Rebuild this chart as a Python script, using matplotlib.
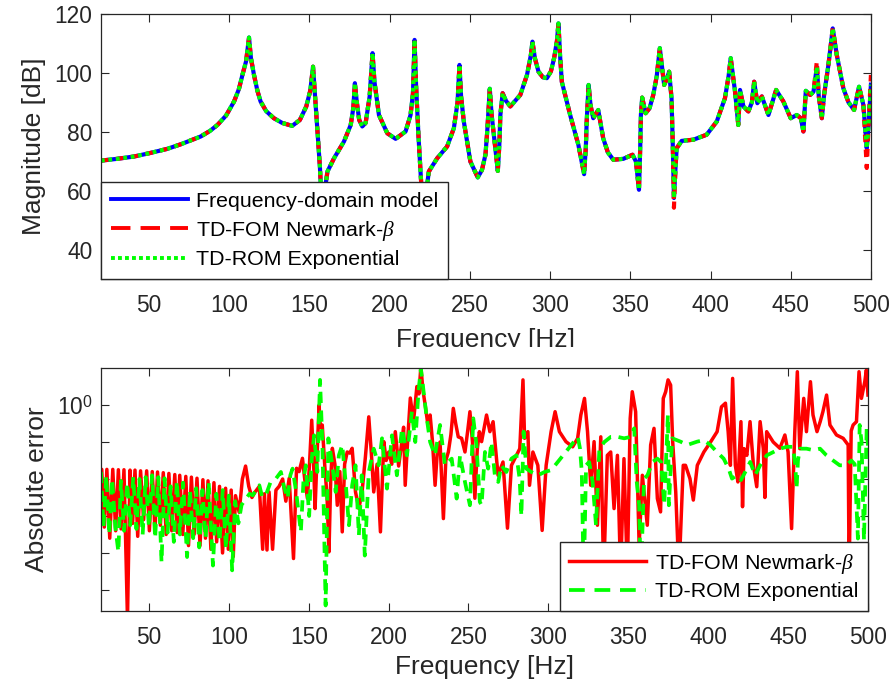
import numpy as np
import matplotlib.pyplot as plt
from matplotlib.lines import Line2D
from matplotlib.patches import Rectangle
from matplotlib.ticker import FixedLocator, FixedFormatter, NullLocator

plt.rcParams['font.family'] = ['Liberation Sans', 'DejaVu Sans']
plt.rcParams['mathtext.fontset'] = 'custom'
plt.rcParams['mathtext.rm'] = 'Liberation Sans'
plt.rcParams['mathtext.it'] = 'Liberation Serif:italic'

# ---- top panel: FRF magnitude ----
freq_top = [20, 30, 40.7, 50, 61.4, 70, 82.2, 88, 92.6, 98,
            103, 106, 108.2, 110.5, 112.3, 113.5, 115.4, 117.5, 119.5, 123,
            127.8, 133, 139.2, 144, 148, 150.5, 152.2, 153.5, 155, 156.5,
            157.5, 158.5, 159.5, 161.2, 165.3, 171.5, 175.7, 177.3, 178.3, 179.5,
            181, 182.9, 185, 187.5, 189.3, 190.5, 193.3, 198.5, 203.7, 209.9,
            213, 214.5, 215.5, 216.5, 218, 219.7, 220.7, 222.4, 224.4, 229.6,
            235.8, 240, 242.3, 243.5, 244.5, 246.2, 250.3, 254.9, 257.5, 259.7,
            260.8, 262.4, 263.5, 264.9, 267.4, 268.3, 269, 270.4, 272.5, 275.2,
            281.4, 285.6, 288, 289, 290.5, 292.8, 295.5, 298, 300.5, 302.5,
            304.3, 305.2, 306.2, 307.3, 312.5, 317.6, 321.2, 322.3, 322.8, 324,
            325.2, 326.9, 330, 333.1, 336, 339.4, 345.6, 351.4, 353.5, 355.4,
            356.2, 356.6, 357.4, 359.5, 362, 364.3, 366.5, 368.4, 370, 371.1,
            372.8, 374.2, 375.7, 376.5, 377.2, 378.2, 378.9, 382, 389.3, 397.6,
            403.9, 409, 411.3, 412.6, 414, 415.3, 417.3, 418.4, 420.5, 423.6,
            425.8, 427.2, 429.2, 432, 436.1, 440.9, 445.4, 450, 453.8, 456.3,
            457.9, 459.4, 462.1, 464.2, 466.3, 467.5, 469.4, 470.8, 473.5, 476.2,
            478.7, 482.8, 486, 489.5, 492.6, 495.3, 497.4, 498.5, 500]
mag_fd = [70.2, 70.8, 71.6, 72.7, 74.2, 75.8, 78.4, 80.3, 82.3, 85.5,
          90.3, 94.5, 99.3, 104, 112, 105, 99.3, 94, 90.3, 87,
          84.6, 83, 82, 84, 88.6, 94, 102.1, 92, 80, 68,
          57, 55, 60, 66.5, 71, 76.7, 82.3, 88, 96.5, 90,
          84, 81.8, 83, 92, 106.7, 97, 85.7, 79.5, 77.6, 80.1,
          85.7, 93, 111.2, 95, 78, 62, 55, 58, 66.5, 71,
          75, 81.2, 90, 102.7, 92, 83.5, 69.9, 64.5, 67, 72.2,
          80.1, 94.6, 86, 79, 66.7, 75, 85.7, 93.1, 90.5, 88.6,
          92.5, 99.3, 106, 110.6, 105, 100.4, 98.5, 98.2, 100.5, 105,
          111, 116.8, 106, 97, 85.7, 75.6, 65.6, 75, 83.5, 95.9,
          89, 84.6, 87.4, 77.8, 73, 70.5, 70.8, 72.2, 69.9, 60.3,
          75, 85.7, 91.6, 86.3, 88, 92.5, 99, 108.4, 101, 95.9,
          98, 100.4, 91.4, 75, 57.5, 68, 74.4, 76.9, 77.3, 79,
          83.5, 91.4, 99, 105, 99, 93.6, 82.3, 94.2, 88.6, 86.9,
          90, 97, 89.7, 92, 85.7, 94.2, 90.3, 84.6, 85.7, 84.6,
          80.1, 93.9, 92.5, 93.6, 102, 92, 84.6, 92.5, 102.7, 115.1,
          106.1, 94.8, 90, 87.4, 95.3, 89.1, 74.4, 82, 96]
# where the Newmark curve leaves the others
fom_fix_freq = [377.2, 466.3, 497.4, 500]
fom_fix_mag = [54.2, 104.0, 67.7, 99.3]

mag_fom = list(mag_fd)
for f, m in zip(fom_fix_freq, fom_fix_mag):
    mag_fom[freq_top.index(f)] = m
mag_rom = list(mag_fd)

# ---- bottom panel: absolute error, (freq, log10 error) ----
fom_err = [(20.0, -1.76), (20.5, -1.74), (22.1, -3.3), (23.7, -1.74), (25.5, -3.6), (27.4, -1.74),
           (29.2, -3.4), (30.9, -1.75), (32.6, -3.35), (34.4, -1.75), (36.6, -5.8), (38.2, -1.76),
           (39.8, -3.2), (41.3, -1.76), (43.0, -3.55), (44.8, -1.78), (46.7, -3.1), (48.6, -1.78),
           (50.3, -3.4), (52.1, -1.8), (53.8, -3.4), (55.4, -1.81), (57.2, -3.25), (59.0, -1.83),
           (60.8, -3.5), (62.5, -1.85), (64.3, -3.4), (66.2, -1.88), (67.8, -3.45), (69.3, -1.9),
           (71.2, -3.5), (73.1, -1.93), (74.8, -3.8), (76.6, -1.95), (78.3, -3.5), (80.1, -1.98),
           (82.0, -3.8), (83.8, -2.02), (85.4, -3.6), (87.0, -2.05), (88.8, -3.9), (90.7, -2.1),
           (92.4, -3.7), (94.2, -2.2), (96.1, -4.0), (98.0, -2.25), (99.7, -3.9), (101.5, -2.3),
           (102.8, -4.1), (104.2, -2.45), (106.5, -2.9), (108.5, -2.0), (110.5, -1.65), (112.5, -2.2),
           (114.5, -2.5), (116.5, -2.35), (119.1, -2.2), (121.2, -3.9), (122.3, -2.4), (123.9, -3.92),
           (125.2, -2.35), (127.4, -3.9), (129.5, -2.3), (131.5, -2.2), (133.7, -2.0), (135.7, -2.6),
           (137.8, -1.98), (140.5, -4.15), (142.4, -1.71), (144.0, -1.8), (146.1, -1.44), (147.5, -2.0),
           (149.2, -2.52), (150.5, -1.6), (151.9, -0.41), (153.0, -1.5), (154.0, -2.8), (155.3, -1.3),
           (156.5, 0.0), (157.3, -0.6), (158.5, -0.54), (160.0, -1.6), (161.5, -2.5), (162.7, -3.97),
           (163.8, -2.0), (164.8, -1.17), (166.4, -1.6), (167.9, -2.71), (169.5, -1.8), (171.0, -3.43),
           (172.5, -1.6), (174.1, -1.27), (175.7, -1.3), (177.2, -1.17), (179.3, -2.35), (181.4, -2.8),
           (183.4, -2.35), (185.5, -1.4), (187.6, -0.32), (189.2, -1.3), (190.7, -2.35), (192.8, -1.6),
           (194.9, -3.43), (197.0, -0.99), (198.5, -1.5), (200.1, -1.27), (202.0, -1.6), (204.2, -0.72),
           (206.3, -1.65), (208.0, -1.1), (209.4, -0.6), (210.4, -2.17), (212.0, -0.9), (213.6, 0.19),
           (215.6, -0.45), (217.7, 0.5), (219.0, 0.3), (220.2, 1.04), (221.5, 0.4), (222.9, 0.0),
           (224.5, -0.5), (226.0, -0.27), (227.5, -1.0), (229.1, -2.17), (230.6, -1.2), (232.2, -1.0),
           (234.3, -3.07), (235.8, -1.5), (237.4, -1.27), (239.0, -0.8), (240.5, -0.09), (242.0, -0.5),
           (243.6, -0.86), (245.7, -0.9), (247.8, -1.27), (249.5, -0.7), (250.9, -0.18), (252.5, -1.0),
           (254.0, -2.52), (255.5, -1.2), (256.8, -0.72), (258.2, -0.99), (261.3, -0.27), (263.4, -0.72),
           (265.4, -0.45), (268.5, -1.9), (271.6, -1.54), (274.4, -3.33), (276.9, -1.63), (280.0, -1.36),
           (282.1, -1.18), (284.1, 0.68), (285.1, -0.9), (287.2, -0.72), (288.2, -2.17), (290.3, -1.27),
           (293.4, -1.63), (296.1, -3.39), (298.6, -1.63), (301.7, -0.72), (304.2, -0.18), (306.9, -0.72),
           (311.0, -0.99), (315.2, -1.13), (318.3, -0.9), (320.3, -0.27), (322.6, 0.18), (324.5, -0.72),
           (326.5, -2.17), (328.6, -0.99), (330.7, -3.25), (332.8, -0.86), (334.6, -4.6), (336.9, -1.36),
           (339.0, -1.27), (341.1, -2.8), (343.2, -1.36), (345.2, -4.6), (347.3, -1.45), (349.4, -4.6),
           (351.2, -0.36), (352.5, 0.36), (354.6, -0.18), (356.8, -3.79), (358.8, -1.9), (361.9, -3.25),
           (364.0, -1.08), (366.1, -0.63), (368.2, -2.53), (370.2, -2.89), (371.9, 0.18), (373.4, 0.36),
           (374.9, 0.68), (376.5, 0.54), (377.8, -1.0), (379.7, -2.35), (381.7, -4.6), (384.4, -1.63),
           (385.8, -1.63), (388.6, -1.99), (390.7, -2.57), (393.2, -1.63), (397.3, -1.27), (401.5, -1.0),
           (405.6, -0.72), (408.3, -0.05), (410.8, 0.05), (412.5, -0.72), (413.9, -1.63), (415.3, 0.72),
           (417.0, -1.63), (418.6, -2.08), (420.5, -0.45), (421.5, -2.75), (422.5, -1.18), (424.2, -1.36),
           (426.2, -0.45), (428.3, -1.63), (430.4, -2.21), (432.5, -0.45), (434.5, -1.18), (435.5, -2.5),
           (436.6, -0.72), (440.7, -1.0), (444.9, -1.17), (448.0, -0.81), (450.0, -1.27), (452.2, -3.34),
           (454.2, -0.72), (455.8, 0.9), (457.3, -1.18), (459.8, 0.18), (461.5, -0.72), (464.0, 0.63),
           (465.6, -0.27), (468.1, -0.72), (470.1, -0.45), (471.8, -0.18), (474.1, 0.27), (476.2, -0.54),
           (480.3, -0.81), (484.5, -0.9), (487.6, -1.08), (488.2, -4.6), (489.5, -0.7), (490.7, -0.54),
           (492.8, -0.45), (494.4, 0.9), (495.9, 0.18), (498.0, 0.63), (499.0, 0.95), (500.0, 0.27)]

rom_err = [(20.0, -1.81), (21.6, -3.3), (23.3, -1.9), (25.2, -3.5), (27.0, -2.0), (29.0, -3.3),
           (30.9, -3.97), (32.5, -2.05), (34.5, -3.4), (36.4, -2.1), (38.3, -3.25), (40.2, -1.95),
           (42.2, -3.35), (44.1, -2.0), (46.1, -3.5), (48.0, -1.95), (50.0, -3.3), (52.0, -1.9),
           (53.9, -3.6), (55.9, -1.95), (57.9, -4.25), (59.8, -1.98), (61.7, -3.45), (63.6, -2.2),
           (65.6, -3.7), (67.5, -2.05), (69.4, -3.5), (71.4, -2.1), (73.9, -4.11), (75.7, -2.3),
           (77.7, -3.6), (79.6, -2.25), (81.5, -3.85), (83.5, -2.3), (85.5, -3.6), (87.4, -2.08),
           (90.1, -4.34), (92.2, -2.4), (94.2, -3.7), (96.2, -2.3), (98.2, -3.9), (100.0, -2.45),
           (102.1, -4.47), (104.0, -2.6), (106.0, -3.2), (108.0, -2.7), (110.8, -2.53), (113.0, -2.4),
           (115.0, -2.44), (117.0, -2.3), (119.1, -2.17), (121.0, -2.5), (123.5, -2.4), (126.0, -2.1),
           (129.5, -1.99), (132.6, -1.81), (134.5, -2.2), (136.8, -2.53), (138.5, -1.9), (139.9, -1.72),
           (142.0, -2.3), (145.1, -3.43), (146.8, -2.0), (148.2, -1.63), (150.3, -3.0), (151.8, -1.5),
           (153.4, -0.82), (155.4, -1.81), (157.1, 0.68), (158.6, -1.08), (160.6, -5.42), (162.3, -0.9),
           (164.8, -1.63), (166.9, -2.35), (168.9, -1.36), (171.0, -1.08), (173.1, -2.08), (175.2, -3.25),
           (177.2, -2.17), (179.3, -1.63), (181.4, -3.52), (183.2, -1.9), (185.1, -4.07), (187.6, -1.81),
           (190.7, -1.18), (193.8, -1.63), (195.9, -0.9), (199.0, -2.26), (202.1, -0.82), (205.2, -1.9),
           (208.4, -0.63), (211.5, -1.36), (214.6, -0.18), (216.7, -1.0), (218.7, 0.36), (220.2, 0.99),
           (221.9, 0.36), (223.9, -0.36), (226.0, -1.0), (229.0, -1.36), (232.2, -0.54), (235.3, -1.63),
           (239.5, -1.45), (242.6, -2.53), (244.7, -1.36), (247.8, -2.08), (250.9, -2.71), (253.0, -0.36),
           (255.0, -1.08), (257.1, -2.62), (258.2, -2.71), (260.3, -1.27), (262.3, -1.72), (264.4, -1.0),
           (266.5, -1.9), (268.6, -2.08), (270.6, -1.63), (273.7, -1.81), (276.9, -1.45), (280.0, -1.36),
           (282.0, -1.99), (283.1, -3.0), (284.5, -0.72), (286.2, -1.72), (289.3, -1.81), (293.5, -1.9),
           (297.6, -1.81), (301.8, -1.76), (305.9, -1.54), (310.1, -1.31), (314.2, -1.09), (318.4, -0.86),
           (319.8, -1.18), (320.9, -1.81), (322.1, -4.8), (323.6, -1.63), (325.5, -1.54), (327.7, -2.08),
           (329.8, -3.25), (331.9, -1.18), (335.0, -1.0), (339.1, -0.86), (343.3, -0.86), (347.4, -0.9),
           (351.6, -0.86), (353.7, -0.63), (355.3, -2.08), (356.8, -2.71), (357.8, -4.8), (359.9, -1.99),
           (362.0, -1.9), (365.1, -1.54), (368.2, -1.45), (370.5, -1.54), (372.5, -2.7), (374.8, -0.27),
           (375.4, -2.71), (377.5, -0.9), (382.7, -0.99), (386.9, -1.08), (393.1, -0.99), (397.2, -0.95),
           (401.4, -1.08), (405.5, -1.27), (409.7, -1.45), (412.8, -1.72), (414.9, -1.99), (418.0, -1.9),
           (420.5, -2.03), (423.2, -1.81), (426.3, -1.54), (429.4, -1.9), (432.5, -1.63), (436.7, -1.36),
           (440.8, -1.27), (445.0, -1.18), (449.1, -1.13), (453.0, -1.13), (454.5, -1.6), (455.3, -2.26),
           (456.2, -1.5), (457.4, -1.18), (461.5, -1.18), (465.7, -1.22), (470.0, -1.18), (474.0, -1.36),
           (478.2, -1.5), (482.3, -1.63), (486.4, -1.63), (489.6, -1.5), (491.7, -1.6), (493.7, -3.61),
           (494.8, -0.54), (496.0, -1.0), (497.5, -3.66), (499.2, -0.62), (500.0, -1.1)]

labels_top = ['Frequency-domain model', 'TD-FOM Newmark-$\\beta$', 'TD-ROM Exponential']
labels_bot = ['TD-FOM Newmark-$\\beta$', 'TD-ROM Exponential']
x_ticks = [50, 100, 150, 200, 250, 300, 350, 400, 450, 500]

BLUE, RED, GREEN = '#0000ff', '#ff0000', '#00ff00'
DARK = '#262626'
TICK_FS, LABEL_FS, LEG_FS = 16.4, 19, 15.4

fig = plt.figure(figsize=(8.95, 6.85), dpi=100)
ax1 = fig.add_axes([0.1128, 0.5927, 0.8603, 0.3869])
ax2 = fig.add_axes([0.1128, 0.1080, 0.8570, 0.3547])

# top panel
ax1.plot(freq_top, mag_fd, color=BLUE, lw=3.0)
ax1.plot(freq_top, mag_fom, color=RED, lw=3.0, dashes=(1.8, 1.8))
ax1.plot(freq_top, mag_rom, color=GREEN, lw=3.0, dashes=(0.9, 0.9))
ax1.set_xlim(20, 500)
ax1.set_ylim(30, 120)
ax1.set_xticks(x_ticks)
ax1.set_yticks([40, 60, 80, 100, 120])
ax1.set_xlabel('Frequency [Hz]', fontsize=LABEL_FS, color=DARK, labelpad=8)
ax1.set_ylabel('Magnitude [dB]', fontsize=LABEL_FS, color=DARK, labelpad=6)

h_top = [Line2D([], [], color=BLUE, lw=2.8),
         Line2D([], [], color=RED, lw=2.8, dashes=(5.0, 2.6)),
         Line2D([], [], color=GREEN, lw=2.8, dashes=(1, 0.8))]
leg1 = ax1.legend(h_top, labels_top, loc='lower left', borderaxespad=0, fontsize=LEG_FS,
                  handlelength=3.6, handletextpad=0.4, labelspacing=0.36, borderpad=0.45,
                  fancybox=False, edgecolor=DARK, framealpha=1)
leg1.get_frame().set_linewidth(1.0)

# bottom panel
fe = np.array(fom_err)
re_ = np.array(rom_err)
ax2.plot(fe[:, 0], 10 ** fe[:, 1], color=RED, lw=2.5)
ax2.plot(re_[:, 0], 10 ** re_[:, 1], color=GREEN, lw=2.7, dashes=(3, 2))
ax2.set_yscale('log')
ax2.set_xlim(20, 500)
ax2.set_ylim(10 ** -5.57, 10 ** 1.0)
ax2.set_xticks(x_ticks)
ax2.yaxis.set_major_locator(FixedLocator([1e-5, 1e-4, 1e-3, 1e-2, 1e-1, 1e0]))
ax2.yaxis.set_major_formatter(FixedFormatter(['', '', '', '', '', '$10^0$']))
ax2.yaxis.set_minor_locator(NullLocator())
ax2.set_xlabel('Frequency [Hz]', fontsize=LABEL_FS, color=DARK, labelpad=4)
ax2.set_ylabel('Absolute error', fontsize=LABEL_FS, color=DARK, labelpad=6)

h_bot = [Line2D([], [], color=RED, lw=2.5),
         Line2D([], [], color=GREEN, lw=2.7, dashes=(4.2, 2.6))]
leg2 = ax2.legend(h_bot, labels_bot, loc='lower right', borderaxespad=0, fontsize=LEG_FS,
                  handlelength=3.6, handletextpad=0.4, labelspacing=0.3, borderpad=0.45,
                  fancybox=False, edgecolor=DARK, framealpha=1)
leg2.get_frame().set_linewidth(1.0)

for ax in (ax1, ax2):
    ax.tick_params(direction='in', top=True, right=True, length=6, width=0.8,
                   labelsize=TICK_FS, colors=DARK, pad=11)
    ax.tick_params(axis='y', pad=6)
    for s in ax.spines.values():
        s.set_color(DARK)
        s.set_linewidth(0.9)

# the upper x label is cut off in the original
fig.add_artist(Rectangle((0, (685 - 366) / 685), 1, (366 - 347) / 685,
                         transform=fig.transFigure, facecolor='white',
                         edgecolor='none', zorder=5))

fig.savefig('out.png', dpi=100)
